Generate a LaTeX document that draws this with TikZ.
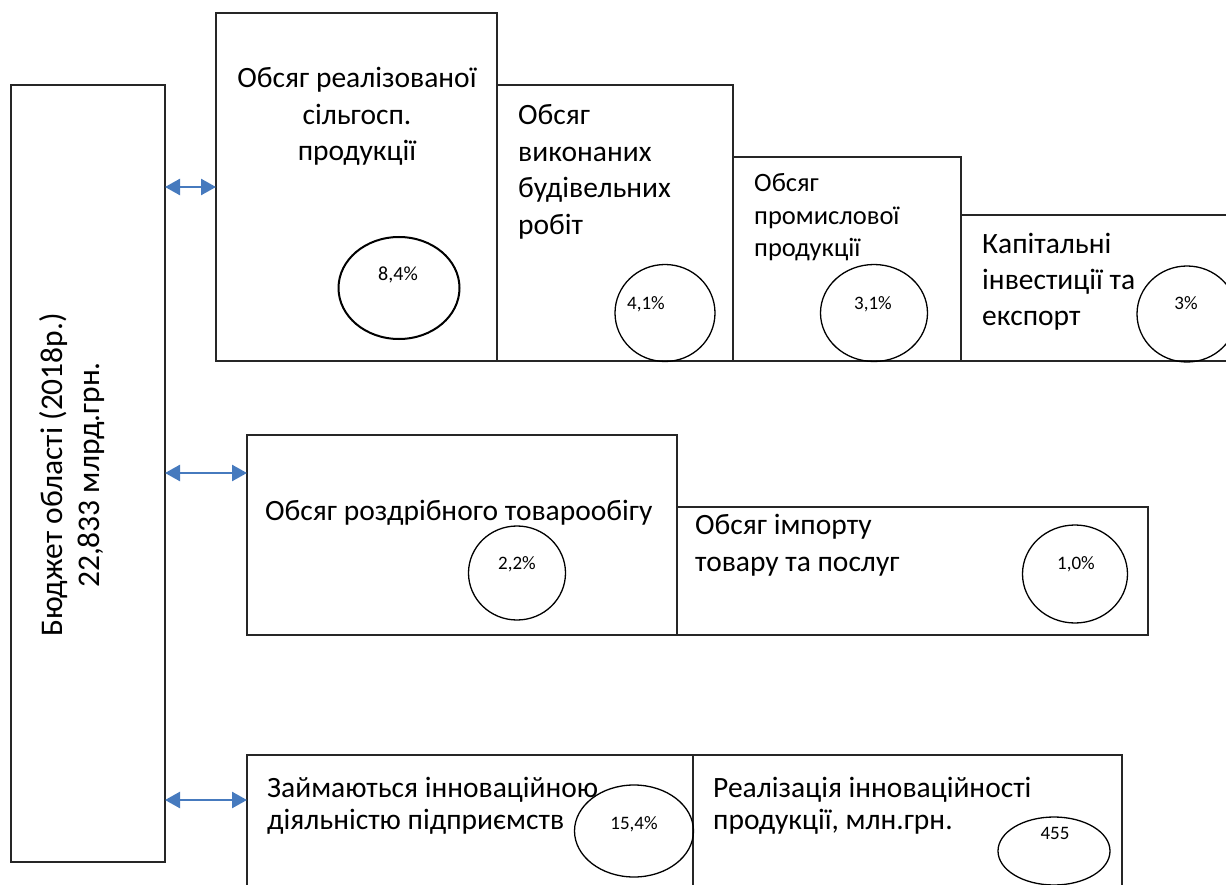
\documentclass[tikz,border=0pt]{standalone}
\usepackage{fontspec}
\setmainfont{Carlito}
\usetikzlibrary{arrows.meta,positioning,shapes.geometric}

\begin{document}
\begin{tikzpicture}[x=1pt,y=-1pt,
    box/.style={draw=black!85,line width=1.1pt,inner sep=0pt,outer sep=0pt},
    ring/.style={draw,ellipse,line width=1.3pt,inner sep=0pt},
    txt/.style={font=\fontsize{29.5}{36.5}\selectfont,align=left,inner sep=0pt},
    pct/.style={font=\fontsize{19}{22}\selectfont,inner sep=0pt,anchor=base},
    link/.style={{Triangle[width=16pt,length=15pt]}-{Triangle[width=16pt,length=15pt]},line width=2.5pt,draw=arrowblue}]
        \definecolor{arrowblue}{RGB}{70,122,190}
        \useasboundingbox (0,0) rectangle (1226,885);

        % budget box
        \node[box,anchor=north west,minimum width=154pt,minimum height=777pt] (budget) at (11,85) {};
        \node[txt,align=center,rotate=90,font=\fontsize{31.5}{37}\selectfont] (budgettxt) at (72,475)
          {Бюджет області (2018р.)\\22,833 млрд.грн.};

        % first row (base = last line)
        \node[box,anchor=north west,minimum width=281pt,minimum height=348pt] (b1) at (216,13) {};
        \node[box,anchor=south west,minimum width=236pt,minimum height=276pt] (b2) at (b1.south east) {};
        \node[box,anchor=south west,minimum width=228pt,minimum height=204pt] (b3) at (b2.south east) {};
        \node[box,anchor=south west,minimum width=279pt,minimum height=146pt] (b4) at (b3.south east) {};

        \node[txt,align=center,anchor=base] (t1) at (357,161) {Обсяг реалізованої\\сільгосп.\\продукції};
        \node[txt,anchor=base west] (t2) at (518,234.5) {Обсяг\\виконаних\\будівельних\\робіт};
        \node[txt,anchor=base west,font=\fontsize{26.5}{32.5}\selectfont] (t3) at (754,257) {Обсяг\\промислової\\продукції};
        \node[txt,anchor=base west] (t4) at (982,326) {Капітальні\\інвестиції та\\експорт};

        \node[ring,line width=2pt,minimum width=121pt,minimum height=102pt] (c1) at (399,288) {};
        \node[ring,minimum width=100pt,minimum height=97pt] (c2) at (665,313) {};
        \node[ring,minimum width=107pt,minimum height=97pt] (c3) at (874,313) {};
        \node[ring,minimum width=100pt,minimum height=96pt] (c4) at (1187,314) {};
        \node[pct,font=\fontsize{20}{24}\selectfont] (p1) at (398,281) {8,4\%};
        \node[pct] (p2) at (646,309) {4,1\%};
        \node[pct] (p3) at (873,309) {3,1\%};
        \node[pct] (p4) at (1186,309) {3\%};

        % second row
        \node[box,anchor=north west,minimum width=430pt,minimum height=200pt] (b5) at (247,435) {};
        \node[box,anchor=south west,minimum width=471pt,minimum height=128pt] (b6) at (b5.south east) {};
        \node[txt,anchor=base west] (t5) at (265,520) {Обсяг роздрібного товарообігу};
        \node[txt,anchor=base west] (t6) at (695,571) {Обсяг імпорту\\товару та послуг};
        \node[ring,minimum width=97pt,minimum height=94pt] (c5) at (517,573) {};
        \node[ring,minimum width=105pt,minimum height=98pt] (c6) at (1075,574) {};
        \node[pct] (p5) at (517,569) {2,2\%};
        \node[pct] (p6) at (1076,569) {1,0\%};

        % third row
        \node[box,anchor=north west,minimum width=446pt,minimum height=145pt] (b7) at (247,755) {};
        \node[box,anchor=north west,minimum width=429pt,minimum height=145pt] (b8) at (b7.north east) {};
        \node[txt,anchor=base west,font=\fontsize{29.5}{32}\selectfont] (t7) at (267,829) {Займаються інноваційною\\діяльністю підприємств};
        \node[txt,anchor=base west,font=\fontsize{29.5}{32}\selectfont] (t8) at (713,829) {Реалізація інноваційності\\продукції, млн.грн.};
        \node[ring,minimum width=119pt,minimum height=92pt] (c7) at (634,831) {};
        \node[ring,minimum width=112pt,minimum height=68pt] (c8) at (1054,851) {};
        \node[pct] (p7) at (634,829) {15,4\%};
        \node[pct] (p8) at (1055,839) {455};

        % links
        \coordinate (r2) at (0,473);
        \coordinate (r3) at (0,800);
        \draw[link] (budget.east |- b1.west) -- (b1.west);
        \draw[link] (budget.east |- r2) -- (b5.west |- r2);
        \draw[link] (budget.east |- r3) -- (b7.west |- r3);
\end{tikzpicture}
\end{document}
